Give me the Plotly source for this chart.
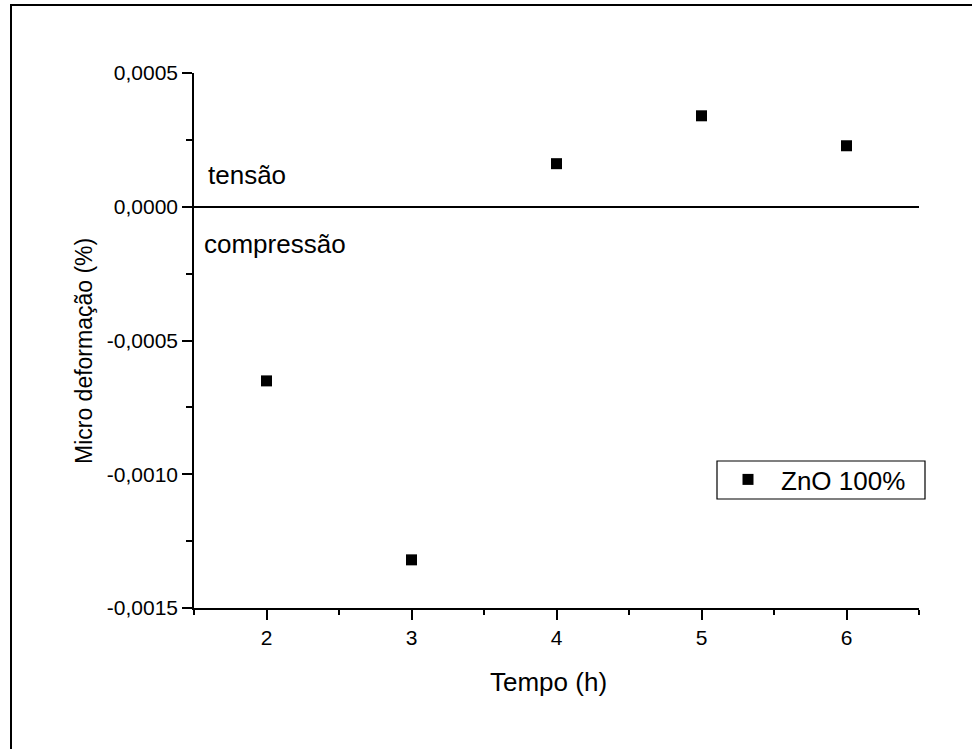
import plotly.graph_objects as go

# Data
tempo_h = [2, 3, 4, 5, 6]
micro_deformacao = [-0.000651, -0.00132, 0.000161, 0.00034, 0.000228]
series_name = "ZnO 100%"

x_tickvals = [2, 3, 4, 5, 6]
x_ticktext = ["2", "3", "4", "5", "6"]
y_tickvals = [-0.0015, -0.0010, -0.0005, 0.0, 0.0005]
y_ticktext = ["-0,0015", "-0,0010", "-0,0005", "0,0000", "0,0005"]

FONT = "Liberation Sans, Arial, sans-serif"

# Plot area in pixels
W, H = 972, 749
L, R, T, B = 194, 919, 73, 608
pw, ph = R - L, B - T

def px_x(px):
    return (px - L) / pw

def px_y(py):
    return (B - py) / ph

fig = go.Figure()
fig.add_trace(go.Scatter(
    x=tempo_h, y=micro_deformacao, mode="markers", name=series_name,
    marker=dict(symbol="square", size=11, color="black", line=dict(width=0)),
))

fig.update_layout(
    width=W, height=H,
    margin=dict(l=L, r=W - R, t=T, b=H - B, pad=0),
    paper_bgcolor="white", plot_bgcolor="white",
    font=dict(family=FONT, color="black"),
    showlegend=True,
    legend=dict(
        x=px_x(715), y=px_y(456), xanchor="left", yanchor="top",
        borderwidth=0, bgcolor="rgba(0,0,0,0)",
        font=dict(size=26, family=FONT), itemwidth=56,
    ),
    xaxis=dict(
        range=[1.5, 6.5], showgrid=False, zeroline=False,
        showline=True, linecolor="black", linewidth=1.5,
        ticks="outside", ticklen=10, tickwidth=1.5, tickcolor="black",
        tickvals=x_tickvals, ticktext=x_ticktext,
        tickfont=dict(size=21, family=FONT),
        minor=dict(ticks="outside", ticklen=5, tickwidth=1.5, tickcolor="black", dtick=0.5, tick0=1.5, showgrid=False),
    ),
    yaxis=dict(
        range=[-0.0015, 0.0005], showgrid=False,
        zeroline=True, zerolinecolor="black", zerolinewidth=2,
        showline=True, linecolor="black", linewidth=1.5,
        ticks="outside", ticklen=10, tickwidth=1.5, tickcolor="black",
        tickvals=y_tickvals, ticktext=y_ticktext,
        tickfont=dict(size=21, family=FONT),
        minor=dict(ticks="outside", ticklen=6, tickwidth=1.5, tickcolor="black", dtick=0.00025, tick0=0, showgrid=False),
    ),
    annotations=[
        dict(text="Micro deformação (%)", xref="paper", yref="paper",
             x=px_x(84), y=px_y(351), textangle=-90, showarrow=False,
             xanchor="center", yanchor="middle", font=dict(size=23, family=FONT)),
        dict(text="Tempo (h)", xref="paper", yref="paper",
             x=px_x(548), y=px_y(682), showarrow=False,
             xanchor="center", yanchor="middle", font=dict(size=26, family=FONT)),
        dict(text="tensão", xref="paper", yref="paper",
             x=px_x(206), y=px_y(175), showarrow=False,
             xanchor="left", yanchor="middle", font=dict(size=26, family=FONT)),
        dict(text="compressão", xref="paper", yref="paper",
             x=px_x(202), y=px_y(244), showarrow=False,
             xanchor="left", yanchor="middle", font=dict(size=26, family=FONT)),
    ],
    shapes=[
        dict(type="line", xref="paper", yref="paper",
             x0=px_x(11), y0=px_y(5), x1=px_x(990), y1=px_y(5),
             line=dict(color="black", width=2)),
        dict(type="line", xref="paper", yref="paper",
             x0=px_x(11), y0=px_y(4), x1=px_x(11), y1=px_y(770),
             line=dict(color="black", width=2)),
        dict(type="rect", xref="paper", yref="paper",
             x0=px_x(717), y0=px_y(461), x1=px_x(925), y1=px_y(499),
             line=dict(color="black", width=1.2), fillcolor="rgba(0,0,0,0)"),
    ],
)

fig.write_html("out.html", config={"displayModeBar": False},
               post_script="document.body.style.margin='0px';")
